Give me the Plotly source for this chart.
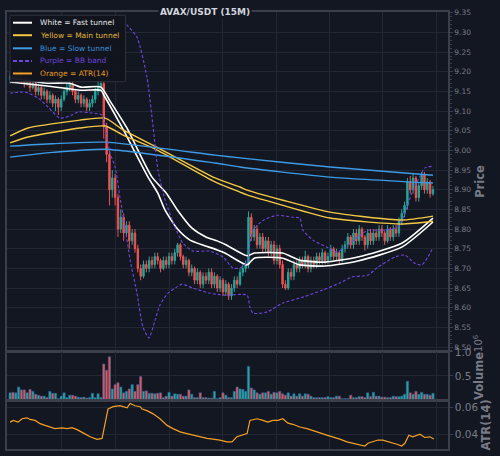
import plotly.graph_objects as go
from plotly.subplots import make_subplots

# AVAX/USDT 15-minute candles, bar index 0..149 (prices)
opens = [9.18, 9.19, 9.18, 9.19, 9.20, 9.18, 9.17, 9.18, 9.16, 9.17,
         9.15, 9.16, 9.14, 9.15, 9.13, 9.14, 9.12, 9.13, 9.11, 9.13,
         9.15, 9.16, 9.17, 9.15, 9.13, 9.14, 9.12, 9.13, 9.11, 9.12,
         9.13, 9.15, 9.16, 9.17, 9.06, 8.99, 8.90, 8.93, 8.88, 8.80,
         8.83, 8.79, 8.81, 8.77, 8.79, 8.75, 8.70, 8.68, 8.71, 8.70,
         8.72, 8.71, 8.73, 8.72, 8.70, 8.72, 8.71, 8.73, 8.72, 8.74,
         8.76, 8.73, 8.71, 8.72, 8.69, 8.70, 8.67, 8.69, 8.66, 8.68,
         8.67, 8.69, 8.66, 8.68, 8.65, 8.67, 8.64, 8.66, 8.63, 8.65,
         8.67, 8.66, 8.69, 8.70, 8.71, 8.83, 8.78, 8.80, 8.76, 8.78,
         8.75, 8.77, 8.74, 8.76, 8.72, 8.75, 8.71, 8.66, 8.65, 8.69,
         8.68, 8.71, 8.70, 8.72, 8.71, 8.73, 8.70, 8.72, 8.71, 8.73,
         8.72, 8.74, 8.72, 8.73, 8.75, 8.73, 8.74, 8.72, 8.75, 8.76,
         8.78, 8.76, 8.79, 8.77, 8.80, 8.78, 8.76, 8.79, 8.77, 8.79,
         8.78, 8.80, 8.79, 8.77, 8.80, 8.78, 8.80, 8.79, 8.82, 8.84,
         8.86, 8.92, 8.90, 8.93, 8.88, 8.91, 8.94, 8.90, 8.92, 8.89]
highs = [9.20, 9.20, 9.20, 9.21, 9.205, 9.19, 9.19, 9.185, 9.18, 9.175,
         9.17, 9.165, 9.16, 9.155, 9.15, 9.145, 9.14, 9.135, 9.14, 9.16,
         9.17, 9.18, 9.175, 9.155, 9.15, 9.145, 9.14, 9.135, 9.13, 9.14,
         9.16, 9.175, 9.185, 9.175, 9.07, 9.00, 8.95, 8.94, 8.89, 8.85,
         8.84, 8.82, 8.82, 8.80, 8.80, 8.76, 8.71, 8.72, 8.72, 8.73,
         8.73, 8.74, 8.74, 8.725, 8.73, 8.73, 8.74, 8.74, 8.75, 8.765,
         8.765, 8.735, 8.73, 8.725, 8.71, 8.705, 8.70, 8.695, 8.69, 8.69,
         8.70, 8.70, 8.69, 8.685, 8.68, 8.675, 8.67, 8.665, 8.66, 8.68,
         8.68, 8.70, 8.71, 8.72, 8.845, 8.84, 8.81, 8.81, 8.79, 8.79,
         8.78, 8.78, 8.77, 8.77, 8.76, 8.76, 8.72, 8.67, 8.70, 8.70,
         8.72, 8.72, 8.73, 8.73, 8.745, 8.735, 8.73, 8.73, 8.74, 8.74,
         8.75, 8.745, 8.74, 8.76, 8.755, 8.75, 8.745, 8.76, 8.77, 8.79,
         8.785, 8.80, 8.80, 8.81, 8.805, 8.785, 8.80, 8.80, 8.80, 8.80,
         8.81, 8.81, 8.795, 8.81, 8.805, 8.81, 8.81, 8.83, 8.85, 8.87,
         8.93, 8.935, 8.94, 8.935, 8.92, 8.945, 8.945, 8.93, 8.925, 8.91]
lows = [9.17, 9.17, 9.175, 9.18, 9.17, 9.16, 9.165, 9.15, 9.155, 9.14,
        9.14, 9.13, 9.13, 9.12, 9.12, 9.11, 9.10, 9.09, 9.10, 9.125,
        9.14, 9.15, 9.14, 9.12, 9.12, 9.11, 9.11, 9.10, 9.10, 9.11,
        9.12, 9.14, 9.15, 9.03, 8.97, 8.86, 8.88, 8.86, 8.78, 8.79,
        8.77, 8.78, 8.75, 8.76, 8.74, 8.69, 8.67, 8.675, 8.69, 8.69,
        8.70, 8.70, 8.71, 8.69, 8.695, 8.70, 8.70, 8.71, 8.71, 8.73,
        8.72, 8.70, 8.70, 8.68, 8.68, 8.66, 8.66, 8.65, 8.65, 8.66,
        8.66, 8.65, 8.65, 8.64, 8.64, 8.63, 8.63, 8.62, 8.62, 8.64,
        8.65, 8.655, 8.68, 8.69, 8.70, 8.77, 8.77, 8.75, 8.75, 8.74,
        8.74, 8.73, 8.73, 8.71, 8.71, 8.70, 8.65, 8.645, 8.645, 8.67,
        8.67, 8.69, 8.69, 8.70, 8.70, 8.69, 8.69, 8.70, 8.70, 8.71,
        8.71, 8.71, 8.71, 8.72, 8.72, 8.72, 8.71, 8.715, 8.74, 8.75,
        8.75, 8.75, 8.76, 8.76, 8.77, 8.745, 8.75, 8.76, 8.76, 8.77,
        8.77, 8.78, 8.76, 8.765, 8.77, 8.77, 8.78, 8.78, 8.81, 8.83,
        8.85, 8.89, 8.89, 8.87, 8.87, 8.90, 8.89, 8.89, 8.88, 8.885]
closes = [9.19, 9.18, 9.19, 9.20, 9.18, 9.17, 9.18, 9.16, 9.17, 9.15,
          9.16, 9.14, 9.15, 9.13, 9.14, 9.12, 9.13, 9.11, 9.13, 9.15,
          9.16, 9.17, 9.15, 9.13, 9.14, 9.12, 9.13, 9.11, 9.12, 9.13,
          9.15, 9.16, 9.17, 9.06, 8.99, 8.90, 8.93, 8.88, 8.80, 8.83,
          8.79, 8.81, 8.77, 8.79, 8.75, 8.70, 8.68, 8.71, 8.70, 8.72,
          8.71, 8.73, 8.72, 8.70, 8.72, 8.71, 8.73, 8.72, 8.74, 8.76,
          8.73, 8.71, 8.72, 8.69, 8.70, 8.67, 8.69, 8.66, 8.68, 8.67,
          8.69, 8.66, 8.68, 8.65, 8.67, 8.64, 8.66, 8.63, 8.65, 8.67,
          8.66, 8.69, 8.70, 8.71, 8.83, 8.78, 8.80, 8.76, 8.78, 8.75,
          8.77, 8.74, 8.76, 8.72, 8.75, 8.71, 8.66, 8.65, 8.69, 8.68,
          8.71, 8.70, 8.72, 8.71, 8.73, 8.70, 8.72, 8.71, 8.73, 8.72,
          8.74, 8.72, 8.73, 8.75, 8.73, 8.74, 8.72, 8.75, 8.76, 8.78,
          8.76, 8.79, 8.77, 8.80, 8.78, 8.76, 8.79, 8.77, 8.79, 8.78,
          8.80, 8.79, 8.77, 8.80, 8.78, 8.80, 8.79, 8.82, 8.84, 8.86,
          8.92, 8.90, 8.93, 8.88, 8.91, 8.94, 8.90, 8.92, 8.89, 8.90]
# volume in millions
volume_m = [0.15, 0.16, 0.15, 0.27, 0.21, 0.21, 0.15, 0.22, 0.18, 0.12,
            0.10, 0.08, 0.08, 0.05, 0.18, 0.14, 0.14, 0.03, 0.08, 0.15,
            0.05, 0.10, 0.10, 0.08, 0.06, 0.05, 0.06, 0.04, 0.05, 0.14,
            0.05, 0.13, 0.05, 0.75, 0.62, 0.90, 0.23, 0.32, 0.36, 0.27,
            0.15, 0.18, 0.23, 0.32, 0.18, 0.32, 0.49, 0.18, 0.19, 0.14,
            0.14, 0.13, 0.14, 0.15, 0.05, 0.08, 0.16, 0.08, 0.13, 0.12,
            0.12, 0.08, 0.08, 0.21, 0.12, 0.05, 0.05, 0.15, 0.05, 0.05,
            0.04, 0.04, 0.18, 0.03, 0.05, 0.15, 0.10, 0.05, 0.05, 0.18,
            0.27, 0.23, 0.22, 0.18, 0.70, 0.25, 0.21, 0.15, 0.12, 0.15,
            0.15, 0.18, 0.12, 0.16, 0.15, 0.18, 0.13, 0.10, 0.15, 0.08,
            0.13, 0.08, 0.13, 0.08, 0.13, 0.12, 0.08, 0.05, 0.05, 0.05,
            0.05, 0.05, 0.07, 0.05, 0.05, 0.08, 0.08, 0.03, 0.03, 0.03,
            0.10, 0.05, 0.05, 0.07, 0.07, 0.05, 0.15, 0.07, 0.16, 0.08,
            0.08, 0.06, 0.06, 0.05, 0.05, 0.08, 0.07, 0.07, 0.08, 0.12,
            0.39, 0.15, 0.12, 0.18, 0.12, 0.16, 0.12, 0.12, 0.10, 0.14]

# tunnels (bar index, price)
fast_a_x = [0, 13, 21, 25, 32, 35, 41, 50, 55, 59, 64, 69, 73, 76, 83.5, 86, 96, 102, 111, 122.5, 138, 149]
fast_a_y = [9.184, 9.171, 9.171, 9.161, 9.161, 9.128, 9.059, 8.932, 8.892, 8.848, 8.803, 8.780, 8.770, 8.760,
            8.732, 8.739, 8.739, 8.721, 8.716, 8.729, 8.764, 8.828]
fast_b_x = [0, 13, 25, 32, 33, 39.4, 48.6, 52, 54.6, 59, 63.4, 73, 75.7, 83.5, 86, 96, 102, 111, 122.5, 138, 149]
fast_b_y = [9.174, 9.164, 9.153, 9.153, 9.141, 9.059, 8.932, 8.892, 8.848, 8.800, 8.772, 8.747, 8.739,
            8.709, 8.726, 8.726, 8.709, 8.706, 8.719, 8.754, 8.818]
main_x = [0, 6.3, 24.6, 33.5, 39.8, 51.8, 72.2, 81, 83.5, 95.8, 112.7, 138, 149]
main_a_y = [9.037, 9.057, 9.077, 9.082, 9.052, 9.008, 8.930, 8.907, 8.899, 8.874, 8.843, 8.823, 8.833]
main_b_y = [9.019, 9.034, 9.057, 9.062, 9.039, 9.001, 8.920, 8.894, 8.887, 8.861, 8.828, 8.813, 8.820]
slow_x = [0, 15, 33.5, 72.2, 81, 112.7, 149]
slow_a_y = [9.011, 9.017, 9.021, 8.988, 8.981, 8.958, 8.937]
slow_b_y = [8.983, 8.995, 9.003, 8.968, 8.958, 8.932, 8.917]

# Bollinger band edges
bb_up_x = [0, 10.6, 24.6, 31.7, 35.2, 38, 39.4, 41.2, 44.7, 48.2, 50.4, 52.1, 54.6, 58.1, 60.9, 64.4,
           70.4, 75, 78.5, 81, 83.5, 84.5, 85.6, 89.1, 94, 99.6, 102.1, 103.2, 106.7, 111.6, 115.1,
           118, 122.5, 126.1, 131, 136.6, 139.1, 141.5, 143.7, 146.1, 149]
bb_up_y = [9.260, 9.255, 9.242, 9.235, 9.281, 9.331, 9.336, 9.319, 9.288, 9.187, 9.059, 8.950, 8.874,
           8.805, 8.764, 8.744, 8.744, 8.729, 8.701, 8.701, 8.716, 8.764, 8.797, 8.822, 8.835, 8.830,
           8.828, 8.797, 8.772, 8.754, 8.742, 8.754, 8.780, 8.797, 8.797, 8.805, 8.840, 8.891, 8.924,
           8.955, 8.960]
bb_lo_x = [0, 5.3, 9.9, 13.4, 17.6, 21.8, 23.9, 28.9, 32.4, 34.2, 35.2, 37, 38.7, 40.5, 42.3, 44.7,
           46.8, 48.9, 51.1, 52.8, 55.6, 58.8, 60.6, 64.4, 70.4, 75.7, 83.5, 84.5, 85.6, 90.5, 96.1,
           103.2, 110.2, 116.2, 120.4, 126.1, 129.6, 135.6, 139.1, 142.6, 145.1, 147.2, 149]
bb_lo_y = [9.146, 9.148, 9.133, 9.110, 9.082, 9.090, 9.098, 9.095, 9.090, 9.030, 8.993, 8.958, 8.881,
           8.805, 8.721, 8.637, 8.551, 8.523, 8.569, 8.607, 8.637, 8.653, 8.660, 8.650, 8.637, 8.632,
           8.632, 8.602, 8.586, 8.589, 8.612, 8.627, 8.645, 8.663, 8.678, 8.683, 8.703, 8.729, 8.734,
           8.713, 8.709, 8.729, 8.752]

# ATR(14)
atr_x = [0, 1.1, 2.8, 4.2, 6, 7, 8.8, 10.6, 12.3, 14.1, 15.8, 18.3, 20.1, 21.8, 23.6, 25.7, 28.2, 30.6,
         32.4, 34.5, 36.3, 38.7, 41.2, 42.3, 44, 45.8, 46.5, 48.2, 50.4, 52.8, 55.3, 57.4, 59.9, 62.3,
         64.4, 66.9, 69.4, 71.5, 73.9, 76.4, 78.2, 79.9, 81.7, 83.5, 84.5, 87, 89.1, 90.8, 92.6, 94.4,
         96.1, 97.9, 99.6, 102.1, 104.6, 106.7, 109.2, 111.6, 113.7, 116.2, 118.7, 120.8, 123.2, 125,
         126.1, 127.8, 129.6, 131.3, 133.8, 136.3, 138, 139.1, 140.5, 141.9, 144.4, 146.1, 147.9, 149.3]
atr_y = [0.0491, 0.0504, 0.0491, 0.0516, 0.0523, 0.0511, 0.0504, 0.0480, 0.0467, 0.0455, 0.0443, 0.0448,
         0.0443, 0.0451, 0.0436, 0.0412, 0.0383, 0.0364, 0.0371, 0.0588, 0.0605, 0.0612, 0.0596, 0.0629,
         0.0612, 0.0605, 0.0588, 0.0576, 0.0552, 0.0516, 0.0467, 0.0443, 0.0419, 0.0407, 0.0395, 0.0383,
         0.0371, 0.0366, 0.0359, 0.0346, 0.0346, 0.0383, 0.0395, 0.0407, 0.0504, 0.0516, 0.0504, 0.0491,
         0.0504, 0.0504, 0.0516, 0.0484, 0.0475, 0.0455, 0.0443, 0.0431, 0.0412, 0.0395, 0.0383, 0.0366,
         0.0346, 0.0335, 0.0322, 0.0315, 0.0335, 0.0346, 0.0359, 0.0359, 0.0346, 0.0328, 0.0315, 0.0335,
         0.0395, 0.0383, 0.0402, 0.0378, 0.0383, 0.0366]

grid_x = [18, 37, 56, 75, 94, 112.7, 131.3, 150.4]

legend_labels = ["White = Fast tunnel", "Yellow = Main tunnel", "Blue = Slow tunnel",
                 "Purple = BB band", "Orange = ATR(14)"]

BG = "#131722"
GRID = "#232733"
FRAME = "#3b3f4b"
TXT = "#787b86"
UP = "#26a69a"
DOWN = "#ef5350"
WHITE = "#ffffff"
YELLOW = "#f4c842"
BLUE = "#3d9be6"
PURPLE = "#6f47e0"
ORANGE = "#f5a024"

bars = list(range(len(closes)))
vol_colors = [UP if c >= o else DOWN for o, c in zip(opens, closes)]

fig = make_subplots(rows=3, cols=1, shared_xaxes=True, vertical_spacing=0)

fig.add_trace(go.Candlestick(
    x=bars, open=opens, high=highs, low=lows, close=closes,
    increasing=dict(line=dict(color=UP, width=1), fillcolor=UP),
    decreasing=dict(line=dict(color=DOWN, width=1), fillcolor=DOWN),
    whiskerwidth=0, showlegend=False, hoverinfo="skip"), row=1, col=1)

line_specs = [
    (fast_a_x, fast_a_y, WHITE, "solid", 1.6, legend_labels[0]),
    (fast_b_x, fast_b_y, WHITE, "solid", 1.6, legend_labels[0]),
    (main_x, main_a_y, YELLOW, "solid", 1.4, legend_labels[1]),
    (main_x, main_b_y, YELLOW, "solid", 1.4, legend_labels[1]),
    (slow_x, slow_a_y, BLUE, "solid", 1.4, legend_labels[2]),
    (slow_x, slow_b_y, BLUE, "solid", 1.4, legend_labels[2]),
    (bb_up_x, bb_up_y, PURPLE, "3px,2px", 1.1, legend_labels[3]),
    (bb_lo_x, bb_lo_y, PURPLE, "3px,2px", 1.1, legend_labels[3]),
]
for xs, ys, color, dash, width, name in line_specs:
    fig.add_trace(go.Scatter(
        x=xs, y=ys, mode="lines", line=dict(color=color, width=width, dash=dash, shape="spline", smoothing=0.6),
        name=name, showlegend=False, hoverinfo="skip"), row=1, col=1)

fig.add_trace(go.Bar(
    x=bars, y=volume_m, marker=dict(color=vol_colors, line=dict(color="#2f5f9e", width=0.6)),
    width=0.8, showlegend=False, hoverinfo="skip"), row=2, col=1)

fig.add_trace(go.Scatter(
    x=atr_x, y=atr_y, mode="lines", line=dict(color=ORANGE, width=1.2),
    name=legend_labels[4], showlegend=False, hoverinfo="skip"), row=3, col=1)

axis_common = dict(
    showgrid=True, gridcolor=GRID, gridwidth=1, zeroline=False,
    showline=True, linecolor=FRAME, linewidth=1.5, mirror=True, automargin=False,
)
fig.update_xaxes(
    range=[-1.1, 154.3], tickvals=grid_x, showticklabels=False, ticks="",
    rangeslider_visible=False, **axis_common)

y_common = dict(side="right", ticks="outside", ticklen=3, tickcolor=FRAME,
                title_font=dict(size=11.5, color=TXT, family="DejaVu Sans, sans-serif"),
                **axis_common)
fig.update_yaxes(
    row=1, col=1, range=[8.49, 9.352], dtick=0.05, tickformat=".2f",
    tickfont=dict(size=7.5, color=TXT),
    minor=dict(dtick=0.01, ticks="outside", ticklen=2, tickcolor=FRAME, showgrid=False),
    title_text="<b>Price</b>", title_standoff=6, **y_common)
fig.update_yaxes(
    row=2, col=1, range=[0, 1.0], tickvals=[0.5, 1.0], ticktext=["0.5", "1.0"],
    tickfont=dict(size=10.5, color=TXT), title_text="<b>Volume</b>", title_standoff=0, **y_common)
fig.update_yaxes(
    row=3, col=1, range=[0.0293, 0.0649], tickvals=[0.04, 0.06], ticktext=["0.04", "0.06"],
    tickfont=dict(size=10.5, color=TXT), title_text="<b>ATR(14)</b>", title_standoff=0, **y_common)

fig.update_layout(
    width=500, height=456,
    margin=dict(l=7, r=52, t=12, b=7),
    paper_bgcolor=BG, plot_bgcolor=BG,
    font=dict(family="DejaVu Sans, sans-serif", color=TXT),
    yaxis=dict(domain=[0.2243, 1.0]),
    yaxis2=dict(domain=[0.1121, 0.2220]),
    yaxis3=dict(domain=[0.0, 0.1105]),
    showlegend=False,
    bargap=0.2,
)

# legend box drawn as a panel: swatch + coloured label per indicator
fig.add_shape(type="rect", xref="paper", yref="paper", x0=0.0068, x1=0.2687, y0=0.8405, y1=0.9924,
              fillcolor="rgba(17,20,29,0.95)", line=dict(color="#2e323d", width=1), layer="above")
legend_rows = [(WHITE, "#e6e6e6", "solid"), (YELLOW, "#e0b43a", "solid"), (BLUE, "#3a8fd6", "solid"),
               (PURPLE, "#6a44d8", "4px,2px"), (ORANGE, "#e39a26", "solid")]
row_y = [0.9755, 0.9469, 0.9169, 0.8879, 0.8593]
for (line_col, text_col, dash), label, ry in zip(legend_rows, legend_labels, row_y):
    fig.add_shape(type="line", xref="paper", yref="paper", x0=0.0136, x1=0.0567, y0=ry, y1=ry,
                  line=dict(color=line_col, width=2, dash=dash), layer="above")
    fig.add_annotation(text=label, xref="paper", yref="paper", x=0.0703, y=ry,
                       xanchor="left", yanchor="middle", showarrow=False,
                       font=dict(size=7.5, color=text_col))

fig.add_annotation(
    text="<b>AVAX/USDT (15M)</b>", xref="paper", yref="paper", x=0.449, y=1.0,
    xanchor="center", yanchor="middle", showarrow=False, bgcolor=BG,
    font=dict(size=9, color="#d1d4dc"))
fig.add_annotation(
    text="10<sup>6</sup>", xref="paper", yref="paper", x=1.068, y=0.2426,
    xanchor="center", yanchor="middle", showarrow=False, textangle=-90,
    font=dict(size=10, color=TXT))

fig.write_html("out.html", config={"displayModeBar": False},
               post_script="document.body.style.margin='0';")
